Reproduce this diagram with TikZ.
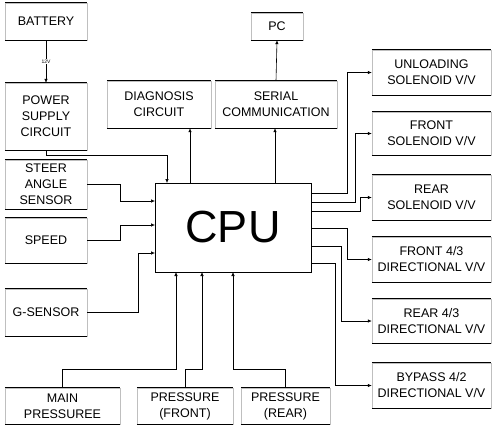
\documentclass[tikz,border=0pt]{standalone}
\usepackage{fontspec}
\setmainfont{Liberation Sans}
\usepackage{tikz}
\usetikzlibrary{calc,arrows.meta}

\begin{document}
\begin{tikzpicture}[x=1pt, y=-1pt]
  \useasboundingbox (0,0) rectangle (492,429);

  \tikzset{
    unit box/.style={draw=black!25, line width=0.4pt, inner sep=0pt, align=center,
                     font=\fontsize{12.5}{16}\selectfont},
    edge line/.style={line width=0.9pt},
    sig line/.style={line width=0.6pt},
    sig arrow/.style={sig line, -{Latex[length=4pt,width=3.5pt]}},
    cpu box/.style={draw, line width=0.8pt, inner sep=0pt, font=\fontsize{45}{45}\selectfont},
  }

  % name, x1, y1, x2, y2, text
  \newcommand{\drawunit}[6]{
    \node[unit box, minimum width={#4pt-#2pt}, minimum height={#5pt-#3pt}]
      (#1) at ({(#2+#4)/2},{(#3+#5)/2}) {#6};
    \draw[edge line] (#1.north west) -- (#1.north east)
                     (#1.south west) -- (#1.south east);
  }

  % left column
  \drawunit{bat}{5}{3}{87}{40}{BATTERY};
  \drawunit{psu}{5}{83}{87}{150}{POWER\\SUPPLY\\CIRCUIT};
  \drawunit{steer}{5}{160}{87}{209}{STEER\\ANGLE\\SENSOR};
  \drawunit{speed}{5}{218}{87}{263}{SPEED};
  \drawunit{gsen}{5}{289}{87}{336}{G-SENSOR};

  % top row
  \drawunit{diag}{107}{81}{211}{128}{DIAGNOSIS\\CIRCUIT};
  \drawunit{serial}{215}{81}{337}{128}{SERIAL\\COMMUNICATION};
  \drawunit{pc}{251}{13}{303}{40}{PC};

  % right column
  \drawunit{unl}{372}{50}{491}{95}{UNLOADING\\SOLENOID V/V};
  \drawunit{fsol}{372}{112}{491}{155}{FRONT\\SOLENOID V/V};
  \drawunit{rsol}{372}{175}{491}{220}{REAR\\SOLENOID V/V};
  \drawunit{fdir}{372}{237}{491}{282}{FRONT 4/3\\DIRECTIONAL V/V};
  \drawunit{rdir}{372}{299}{491}{343}{REAR 4/3\\DIRECTIONAL V/V};
  \drawunit{bdir}{372}{363}{491}{408}{BYPASS 4/2\\DIRECTIONAL V/V};

  % bottom row
  \drawunit{pmain}{5}{388}{120}{424}{MAIN\\PRESSUREE};
  \drawunit{pfront}{137}{388}{233}{424}{PRESSURE\\(FRONT)};
  \drawunit{prear}{241}{388}{330}{424}{PRESSURE\\(REAR)};

  % CPU and its ports
  \node[cpu box, minimum width=156pt, minimum height=89pt] (cpu) at (233,227.5) {CPU};
  \coordinate (cpuT1) at (167,183);
  \coordinate (cpuT2) at (190,183);
  \coordinate (cpuT3) at (275,183);
  \coordinate (cpuL1) at (155,201);
  \coordinate (cpuL2) at (155,225);
  \coordinate (cpuL3) at (155,253);
  \coordinate (cpuB1) at (176,272);
  \coordinate (cpuB2) at (202,272);
  \coordinate (cpuB3) at (233,272);
  \foreach \i/\y in {1/193, 2/202, 3/211, 4/228, 5/246, 6/263}
    \coordinate (cpuR\i) at (311,\y);

  % supply and communication
  \draw[sig arrow] (bat.south) -- node[fill=white, inner sep=1pt,
    font=\fontsize{5}{5}\selectfont] {12V} (psu.north);
  \draw[sig arrow] (psu.south) -- ++(0,5) -| (cpuT1);
  \draw[sig arrow] (cpuT2) -- (cpuT2 |- diag.south);
  \draw[sig arrow] (cpuT3) -- (cpuT3 |- serial.south);
  \draw[sig arrow] (serial.north) -- (pc.south);

  % sensor inputs
  \draw[sig arrow] (steer.east) -- ++(33,0) |- (cpuL1);
  \draw[sig arrow] (speed.east) -- ++(33,0) |- (cpuL2);
  \draw[sig arrow] (gsen.east) -- ++(51,0) |- (cpuL3);
  \draw[sig arrow] (pmain.north) -- ++(0,-19) -| (cpuB1);
  \draw[sig arrow] (pfront.north) -- ++(0,-19) -| (cpuB2);
  \draw[sig arrow] (prear.north) -- ++(0,-19) -| (cpuB3);

  % valve outputs
  \foreach \i/\dx/\tgt in {1/36/unl, 2/44/fsol, 3/49/rsol, 4/36/fdir, 5/30/rdir, 6/24/bdir}
    \draw[sig arrow] (cpuR\i) -- ++(\dx,0) |- (\tgt.west);
\end{tikzpicture}
\end{document}
